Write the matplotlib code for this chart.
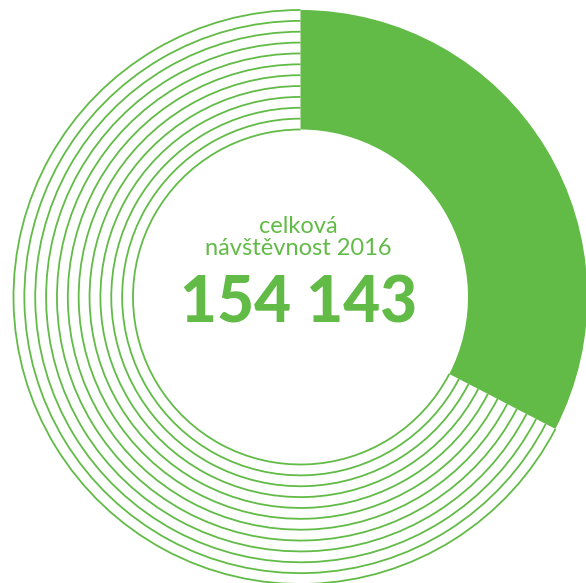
import numpy as np
import matplotlib
matplotlib.use("Agg")
from matplotlib import pyplot as plt
from matplotlib.patches import Arc

# share of the year's visits in the highlighted segment (percent)
segment_labels = ["podíl", "zbytek"]
segment_values = [32.6, 67.4]
total_visits = "154 143"
title_lines = ["celková", "návštěvnost 2016"]

green = "#62bb47"
outer_r = 287
inner_r = 167.5
ring_count = 12

fig = plt.figure(figsize=(5.86, 5.83), dpi=100)
ax = fig.add_axes([0, 0, 1, 1])

# filled segment, clockwise from 12 o'clock
wedges, _ = ax.pie(segment_values, radius=outer_r, startangle=90, counterclock=False,
                   colors=[green, "none"],
                   wedgeprops=dict(width=outer_r - inner_r, linewidth=0))
wedges[0].set_zorder(3)

# thin concentric rings over the remaining part
share = segment_values[0] / sum(segment_values)
theta1 = 90
theta2 = 90 + 360 * (1 - share)
for r in np.linspace(inner_r, outer_r, ring_count):
    ax.add_patch(Arc((0, 0), 2 * r, 2 * r, theta1=theta1, theta2=theta2,
                     color=green, lw=1.3, zorder=2))

# centre text
ax.text(-2, 63.7, title_lines[0], ha="center", va="baseline",
        fontsize=17, color=green, family="Lato", fontweight="normal")
ax.text(-2, 42, title_lines[1], ha="center", va="baseline",
        fontsize=17, color=green, family="Lato", fontweight="normal")
ax.text(-2, -25.7, total_visits, ha="center", va="baseline",
        fontsize=46, color=green, family="Lato", fontweight="black")

ax.set_xlim(-300.5, 285.5)
ax.set_ylim(-286, 297)
ax.set_aspect("equal")
ax.axis("off")

fig.savefig("out.png", dpi=100, facecolor="white")
